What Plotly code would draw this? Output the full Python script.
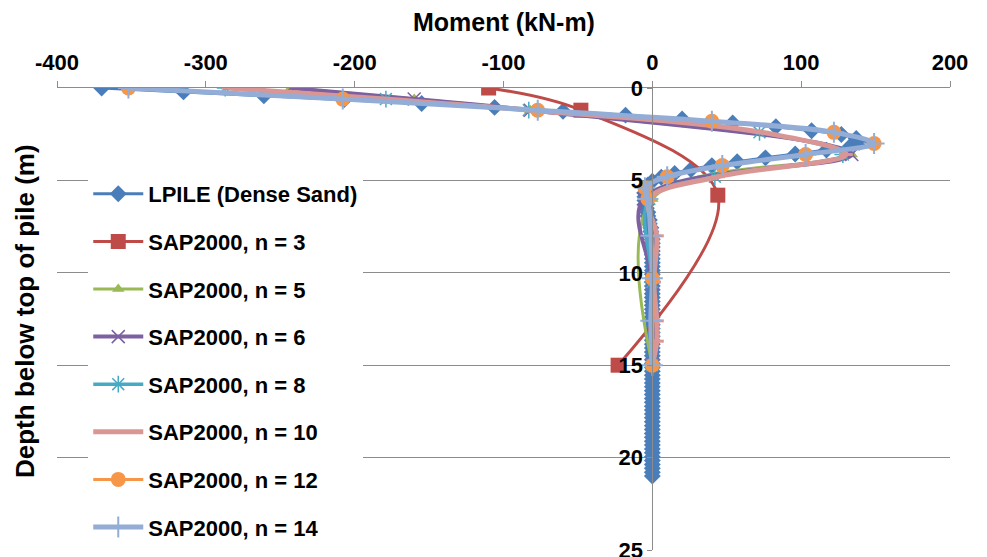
import plotly.graph_objects as go

# ---------------- data ----------------
lpile_depth = [0.00, 0.21, 0.42, 0.63, 0.84, 1.05, 1.26, 1.47, 1.68, 1.89,
               2.10, 2.31, 2.52, 2.73, 2.94, 3.15, 3.36, 3.57, 3.78, 3.99,
               4.20, 4.41, 4.62, 4.83, 5.04, 5.25, 5.46, 5.67, 5.88, 6.09,
               6.30, 6.51, 6.72, 6.93, 7.14, 7.35, 7.56, 7.77, 7.98, 8.19,
               8.40, 8.61, 8.82, 9.03, 9.24, 9.45, 9.66, 9.87, 10.08, 10.29,
               10.50, 10.71, 10.92, 11.13, 11.34, 11.55, 11.76, 11.97, 12.18, 12.39,
               12.60, 12.81, 13.02, 13.23, 13.44, 13.65, 13.86, 14.07, 14.28, 14.49,
               14.70, 14.91, 15.12, 15.33, 15.54, 15.75, 15.96, 16.17, 16.38, 16.59,
               16.80, 17.01, 17.22, 17.43, 17.64, 17.85, 18.06, 18.27, 18.48, 18.69,
               18.90, 19.11, 19.32, 19.53, 19.74, 19.95, 20.16, 20.37, 20.58, 20.79,
               21.00]
lpile_moment = [-370, -315, -261, -207, -155, -106, -60, -18, 20, 54,
                83, 107, 127, 137, 139, 133, 117, 96, 76, 57,
                40, 26, 15, 6, 0, -3, -4, -5, -5, -5,
                -4, -4, -3, -3, -2, -2, -1, -1, -1, 0,
                0, 0, 0, 0, 0, 0, 0, 0, 0, 0,
                0, 0, 0, 0, 0, 0, 0, 0, 0, 0,
                0, 0, 0, 0, 0, 0, 0, 0, 0, 0,
                0, 0, 0, 0, 0, 0, 0, 0, 0, 0,
                0, 0, 0, 0, 0, 0, 0, 0, 0, 0,
                0, 0, 0, 0, 0, 0, 0, 0, 0, 0,
                0]

n3_depth = [0, 1.2, 5.8, 15]
n3_moment = [-110, -48, 44, -23]

n5_depth = [0, 0.6, 1.2, 3.6, 6.0, 15]
n5_moment = [-243, -160, -82, 134, 0, 0]

n6_depth = [0, 0.6, 1.2, 3.6, 6.0, 10.5, 15]
n6_moment = [-243, -160, -82, 134, -6, 0, 0]

n8_depth = [0, 0.6, 1.2, 2.4, 3.6, 4.8, 6.0, 10.5, 15]
n8_moment = [-287, -179, -83, 72, 128, 42, -2, 0, 0]

n10_depth = [0, 0.6, 1.2, 2.4, 3.6, 4.8, 6.0, 8.0, 10.5, 12.6, 13.7, 15]
n10_moment = [-285, -180, -82, 74, 130, 44, -2, 3, 1, 3, 3, 0]

n12_depth = [0, 0.6, 1.2, 1.8, 2.4, 3.0, 3.6, 4.2, 4.8, 5.4, 6.0, 10.3, 15]
n12_moment = [-352, -208, -77, 40, 122, 149, 103, 47, 10, -5, -3, 0, 0]

n14_depth = [0, 0.6, 1.2, 1.8, 2.4, 3.0, 3.6, 4.2, 4.8, 5.4, 6.0, 8.0, 10.3, 12.6, 15]
n14_moment = [-352, -208, -77, 40, 122, 149, 103, 47, 10, -5, -3, -1, 0, -1, 0]

x_ticks = [-400, -300, -200, -100, 0, 100, 200]
x_tick_labels = ["-400", "-300", "-200", "-100", "0", "100", "200"]
y_ticks = [0, 5, 10, 15, 20, 25]
y_tick_labels = ["0", "5", "10", "15", "20", "25"]

series = [
    ("LPILE (Dense Sand)", lpile_moment, lpile_depth, "#4A7EBB",
     dict(symbol="diamond", size=13), 3),
    ("SAP2000, n = 3", n3_moment, n3_depth, "#BE4B48",
     dict(symbol="square", size=15), 3),
    ("SAP2000, n = 5", n5_moment, n5_depth, "#98B954",
     dict(symbol="triangle-up", size=11), 3),
    ("SAP2000, n = 6", n6_moment, n6_depth, "#7D60A0",
     dict(symbol="x-thin-open", size=13, line=dict(width=1.5, color="#7D60A0")), 4),
    ("SAP2000, n = 8", n8_moment, n8_depth, "#46AAC5",
     dict(symbol="asterisk-open", size=14, line=dict(width=1.5, color="#46AAC5")), 3.5),
    ("SAP2000, n = 10", n10_moment, n10_depth, "#D99694",
     dict(symbol="line-ew-open", size=10, line=dict(width=3, color="#D99694")), 5),
    ("SAP2000, n = 12", n12_moment, n12_depth, "#F79646",
     dict(symbol="circle", size=15), 3),
    ("SAP2000, n = 14", n14_moment, n14_depth, "#93ADD6",
     dict(symbol="cross-thin-open", size=15, line=dict(width=2, color="#93ADD6")), 5),
]

fig = go.Figure()
for i, (name, xs, ys, color, marker, lw) in enumerate(series):
    m = dict(color=color)
    m.update(marker)
    fig.add_trace(go.Scatter(
        x=xs, y=ys, name=name, mode="lines+markers",
        line=dict(color=color, width=lw, shape="spline", smoothing=1.0),
        marker=m, legendgroup=f"g{i}",
    ))

font_family = "Liberation Sans, Arial, sans-serif"

fig.update_layout(
    width=987, height=557,
    margin=dict(l=57, r=37, t=88, b=7, autoexpand=False),
    paper_bgcolor="white", plot_bgcolor="white",
    font=dict(family=font_family, color="black", size=22, weight="bold"),
    showlegend=True,
    legend=dict(
        x=0.035, y=1 - (173 - 88) / 462, xanchor="left", yanchor="top",
        bgcolor="white", borderwidth=0, maxheight=600,
        font=dict(family=font_family, size=22, color="black", weight="bold"),
        tracegroupgap=16, itemwidth=50,
    ),
    xaxis=dict(
        range=[-400, 200], side="top", tickvals=x_ticks, ticktext=x_tick_labels,
        showgrid=False, zeroline=False,
        showline=True, linecolor="#8C8C8C", linewidth=1,
        ticks="outside", ticklen=6, tickcolor="#8C8C8C",
        ticklabelstandoff=2, ticklabeloverflow="allow",
        tickfont=dict(family=font_family, size=22, weight="bold", color="black"),
    ),
    yaxis=dict(
        range=[25, 0], tickvals=y_ticks, ticktext=y_tick_labels,
        anchor="free", position=400 / 600,
        showgrid=True, gridcolor="#8C8C8C", gridwidth=1,
        zeroline=False,
        showline=True, linecolor="#8C8C8C", linewidth=1,
        ticks="outside", ticklen=5, tickcolor="#8C8C8C",
        ticklabeloverflow="allow",
        tickfont=dict(family=font_family, size=22, weight="bold", color="black"),
    ),
    annotations=[
        dict(text="Moment (kN-m)", xref="paper", yref="paper",
             x=0.5, y=1 + (88 - 22) / 462, xanchor="center", yanchor="middle",
             showarrow=False,
             font=dict(family=font_family, size=25, weight="bold", color="black")),
        dict(text="Depth below top of pile (m)", xref="paper", yref="paper",
             x=(25 - 57) / 893, y=1 - (311 - 88) / 462, textangle=-90,
             xanchor="center", yanchor="middle", showarrow=False,
             font=dict(family=font_family, size=26, weight="bold", color="black")),
    ],
)

fig.write_html("out.html")
